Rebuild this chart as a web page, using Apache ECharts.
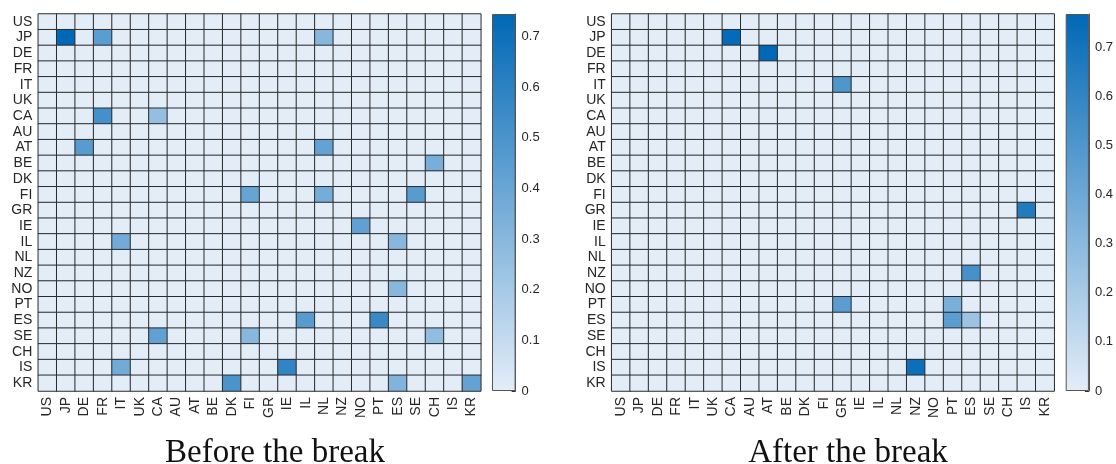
<!DOCTYPE html>
<html>
<head>
<meta charset="utf-8">
<script src="https://cdn.jsdelivr.net/npm/echarts@6/dist/echarts.min.js"></script>
<style>
html,body{margin:0;padding:0;background:#fff;}
#chart{width:1116px;height:464px;}
</style>
</head>
<body>
<div id="chart"></div>
<script>
const countries = ['US','JP','DE','FR','IT','UK','CA','AU','AT','BE','DK','FI','GR','IE','IL','NL','NZ','NO','PT','ES','SE','CH','IS','KR'];

// Before the break: non-zero cells (row country, column country, value)
const beforeRows = ['JP','JP','JP','CA','CA','AT','AT','BE','FI','FI','FI','IE','IL','IL','NO','ES','ES','SE','SE','SE','IS','IS','KR','KR','KR'];
const beforeCols = ['JP','FR','NL','FR','CA','DE','NL','CH','FI','NL','SE','NO','IT','ES','ES','IL','PT','CA','FI','CH','IT','IE','DK','ES','KR'];
const beforeVals = [0.744,0.45,0.30,0.52,0.26,0.46,0.42,0.35,0.41,0.36,0.46,0.43,0.37,0.30,0.30,0.46,0.56,0.43,0.30,0.27,0.37,0.58,0.50,0.32,0.42];

// After the break
const afterRows = ['JP','DE','IT','GR','NZ','PT','PT','ES','ES','IS'];
const afterCols = ['CA','AT','GR','IS','ES','GR','PT','PT','ES','NZ'];
const afterVals = [0.75,0.768,0.50,0.66,0.53,0.46,0.36,0.46,0.24,0.73];

// colour-scale limits
const beforeScaleMax = 0.744;
const afterScaleMax = 0.768;
const colorbarTicks = [0,0.1,0.2,0.3,0.4,0.5,0.6,0.7];

const titles = ['Before the break','After the break'];

const C0 = '#e3edf8', C1 = '#0068b6';

function buildMatrix(rows, cols, vals){
  const m = [];
  for (let r = 0; r < countries.length; r++)
    for (let c = 0; c < countries.length; c++) m.push([c, r, 0]);
  rows.forEach((rc, i) => {
    const r = countries.indexOf(rc), c = countries.indexOf(cols[i]);
    m[r * countries.length + c][2] = vals[i];
  });
  return m;
}

const beforeData = buildMatrix(beforeRows, beforeCols, beforeVals);
const afterData = buildMatrix(afterRows, afterCols, afterVals);

const chart = echarts.init(document.getElementById('chart'), null, {renderer:'canvas'});

const font = 'Liberation Sans, Arial, sans-serif';
const heatLefts = [38.3, 611.7];
const cbLefts = [492, 1065.7];
const gTop = 14, gH = 377, hw = 442.5, cbw = 23.6;

const grids = [], xAxes = [], yAxes = [], series = [], visualMaps = [];
const datas = [beforeData, afterData];
const maxes = [beforeScaleMax, afterScaleMax];

for (let k = 0; k < 2; k++) {
  grids.push({left: heatLefts[k], top: gTop, width: hw, height: gH, containLabel:false});
  xAxes.push({
    type:'category', gridIndex: grids.length-1, data: countries,
    axisLine:{show:false}, axisTick:{show:false}, splitLine:{show:false},
    axisLabel:{rotate:90, interval:0, margin:6, fontSize:14, color:'#262626', fontFamily:font}
  });
  yAxes.push({
    type:'category', gridIndex: grids.length-1, data: countries, inverse:true,
    axisLine:{show:false}, axisTick:{show:false}, splitLine:{show:false},
    axisLabel:{interval:0, margin:6, fontSize:14, color:'#262626', fontFamily:font}
  });
  series.push({
    type:'heatmap', xAxisIndex: xAxes.length-1, yAxisIndex: yAxes.length-1,
    data: datas[k],
    itemStyle:{borderColor:'#2b2b2b', borderWidth:1},
    emphasis:{disabled:true}
  });
  visualMaps.push({
    show:false, type:'continuous', min:0, max:maxes[k], dimension:2,
    seriesIndex: series.length-1, inRange:{color:[C0, C1]}
  });

  grids.push({left: cbLefts[k], top: gTop, width: cbw, height: gH});
  xAxes.push({type:'category', gridIndex: grids.length-1, data:['cb'], show:false});
  yAxes.push({
    type:'value', gridIndex: grids.length-1, min:0, max:maxes[k], interval:0.1,
    position:'right',
    axisLine:{show:true, lineStyle:{color:'#555', width:1}},
    axisTick:{show:true, inside:true, length:4, lineStyle:{color:'#333'}},
    splitLine:{show:false},
    axisLabel:{showMaxLabel:false, margin:6, fontSize:13, color:'#262626', fontFamily:font,
      formatter: v => { const r = Math.round(v*10)/10; return colorbarTicks.indexOf(r) >= 0 && Math.abs(r - v) < 1e-6 ? String(r) : ''; }}
  });
  series.push({
    type:'bar', xAxisIndex: xAxes.length-1, yAxisIndex: yAxes.length-1,
    data:[maxes[k]], barWidth:'100%', silent:true, z:1,
    itemStyle:{
      color: new echarts.graphic.LinearGradient(0,0,0,1,[{offset:0,color:C1},{offset:1,color:C0}]),
      borderColor:'#555', borderWidth:1
    }
  });
}

chart.setOption({
  animation:false,
  backgroundColor:'#fff',
  title: [
    {text: titles[0], left: 270, top: 432, textAlign:'center',
     textStyle:{fontFamily:'Liberation Serif, serif', fontWeight:'normal', fontSize:33, color:'#111'}},
    {text: titles[1], left: 843, top: 432, textAlign:'center',
     textStyle:{fontFamily:'Liberation Serif, serif', fontWeight:'normal', fontSize:33, color:'#111'}}
  ],
  grid: grids, xAxis: xAxes, yAxis: yAxes, visualMap: visualMaps, series: series
});
</script>
</body>
</html>
